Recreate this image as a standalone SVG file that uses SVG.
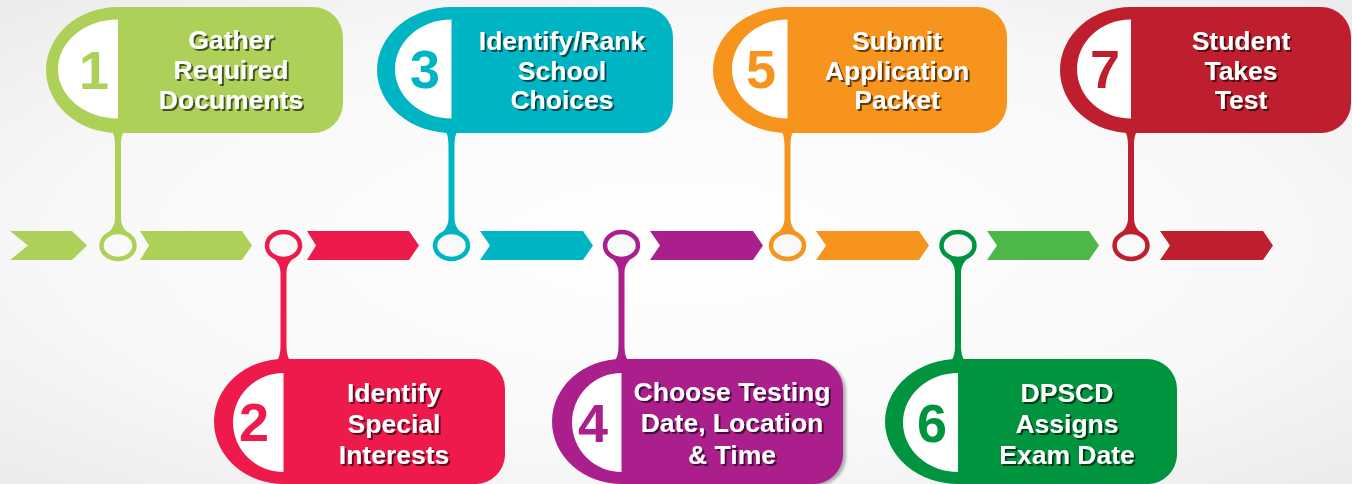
<svg xmlns="http://www.w3.org/2000/svg" xmlns:xlink="http://www.w3.org/1999/xlink" width="1352" height="484" viewBox="0 0 1352 484">
<defs>
<radialGradient id="bg" cx="50%" cy="50%" r="75%">
<stop offset="0" stop-color="#ffffff"/>
<stop offset="0.6" stop-color="#f8f8f8"/>
<stop offset="1" stop-color="#e9e9e9"/>
</radialGradient>
<filter id="sh" x="-10%" y="-20%" width="130%" height="150%">
<feDropShadow dx="2" dy="2" stdDeviation="0.6" flood-color="#000" flood-opacity="0.6"/>
</filter>
<filter id="bs" x="-10%" y="-10%" width="130%" height="130%">
<feGaussianBlur stdDeviation="1.5"/>
</filter>
<path id="stemUp" d="M-13,127 C-4,129 -3,137 -3,147 L-3,218 C-3,228 -9,231 -12,236 L12,236 C9,231 3,228 3,218 L3,147 C3,137 4,129 13,127 Z"/>
<path id="stemDown" d="M-13,364 C-4,362 -3,354 -3,344 L-3,273 C-3,263 -9,260 -12,255 L12,255 C9,260 3,263 3,273 L3,344 C3,354 4,362 13,364 Z"/>
</defs>
<style>
.t{font-family:"Liberation Sans",Arial,sans-serif;font-weight:bold;font-size:26.5px;fill:#ffffff;text-anchor:middle;filter:url(#sh)}
.n{font-family:"Liberation Sans",Arial,sans-serif;font-weight:bold;font-size:54px;text-anchor:middle}
.w{fill:#ffffff}
.ring{fill:#f9f9f9;stroke-width:4.5}
.g1{fill:#ADD158}.r2{fill:#ED1A4B}.c3{fill:#00B5C3}.p4{fill:#AB1F8D}.o5{fill:#F7941D}.d6{fill:#00943F}.l6{fill:#4DB848}.k7{fill:#BE1E2D}
</style>
<rect x="0" y="0" width="1352" height="484" fill="url(#bg)"/>

<g id="timeline">
<polygon class="g1" points="10,231 72,231 87,245.5 72,260 10,260 28,245.5"/>
<polygon class="g1" points="140,231 242,231 252,245.5 242,260 140,260 149,245.5"/>
<polygon class="r2" points="307,231 409,231 419,245.5 409,260 307,260 316,245.5"/>
<polygon class="c3" points="480,231 583,231 593,245.5 583,260 480,260 490,245.5"/>
<polygon class="p4" points="650,231 753,231 763,245.5 753,260 650,260 660,245.5"/>
<polygon class="o5" points="816,231 919,231 929,245.5 919,260 816,260 826,245.5"/>
<polygon class="l6" points="987,231 1089,231 1099,245.5 1089,260 987,260 997,245.5"/>
<polygon class="k7" points="1160,231 1263,231 1273,245.5 1263,260 1160,260 1170,245.5"/>
</g>

<g id="connectors">
<use xlink:href="#stemUp" x="118" fill="#ADD158"/>
<use xlink:href="#stemDown" x="283.5" fill="#ED1A4B"/>
<use xlink:href="#stemUp" x="451.5" fill="#00B5C3"/>
<use xlink:href="#stemDown" x="621.5" fill="#AB1F8D"/>
<use xlink:href="#stemUp" x="787.5" fill="#F7941D"/>
<use xlink:href="#stemDown" x="958" fill="#00943F"/>
<use xlink:href="#stemUp" x="1131" fill="#BE1E2D"/>
<ellipse class="ring" cx="118" cy="245.5" rx="16.5" ry="13.5" stroke="#ADD158"/>
<ellipse class="ring" cx="283.5" cy="245.5" rx="16.5" ry="13.5" stroke="#ED1A4B"/>
<ellipse class="ring" cx="451.5" cy="245.5" rx="16.5" ry="13.5" stroke="#00B5C3"/>
<ellipse class="ring" cx="621.5" cy="245.5" rx="16.5" ry="13.5" stroke="#AB1F8D"/>
<ellipse class="ring" cx="787.5" cy="245.5" rx="16.5" ry="13.5" stroke="#F7941D"/>
<ellipse class="ring" cx="958" cy="245.5" rx="16.5" ry="13.5" stroke="#00943F"/>
<ellipse class="ring" cx="1131" cy="245.5" rx="16.5" ry="13.5" stroke="#BE1E2D"/>
</g>

<g id="node1">
<path class="g1" d="M118,7 L313,7 A30,30 0 0 1 343,37 L343,103 A30,30 0 0 1 313,133 L118,133 A72,63 0 0 1 118,7 Z"/>
<path class="w" d="M118,19.5 A60,49.5 0 0 0 118,118.5 Z"/>
<text class="n g1" x="94" y="89">1</text>
<text class="t" x="231" y="49">Gather</text>
<text class="t" x="231" y="79">Required</text>
<text class="t" x="231" y="109">Documents</text>
</g>

<g id="node2">
<path class="r2" d="M283.5,359 L475,359 A30,30 0 0 1 505,389 L505,456 A30,30 0 0 1 477,484 L283.5,484 A69.5,62.5 0 0 1 283.5,359 Z"/>
<path class="w" d="M283.5,373 A50.5,49.5 0 0 0 283.5,472 Z"/>
<text class="n r2" x="254" y="441">2</text>
<text class="t" x="394" y="402">Identify</text>
<text class="t" x="394" y="433">Special</text>
<text class="t" x="394" y="464">Interests</text>
</g>

<g id="node3">
<path class="c3" d="M451.5,7 L643,7 A30,30 0 0 1 673,37 L673,103 A30,30 0 0 1 643,133 L451.5,133 A74.5,63 0 0 1 451.5,7 Z"/>
<path class="w" d="M451.5,19.5 A56.5,49.5 0 0 0 451.5,118.5 Z"/>
<text class="n c3" x="425" y="88">3</text>
<text class="t" x="562" y="50">Identify/Rank</text>
<text class="t" x="562" y="80">School</text>
<text class="t" x="562" y="109">Choices</text>
</g>

<g id="node4">
<path d="M621.5,361 L815,361 A30,30 0 0 1 846,391 L846,458 A30,30 0 0 1 817,486 L621.5,486 Z" fill="#555" opacity="0.45" filter="url(#bs)"/>
<path class="p4" d="M621.5,359 L813,359 A30,30 0 0 1 843,389 L843,456 A30,30 0 0 1 815,484 L621.5,484 A69.5,62.5 0 0 1 621.5,359 Z"/>
<path class="w" d="M621.5,373 A49.5,49.5 0 0 0 621.5,472 Z"/>
<text class="n p4" x="593" y="442">4</text>
<text class="t" x="732" y="401">Choose Testing</text>
<text class="t" x="732" y="432">Date, Location</text>
<text class="t" x="732" y="464">&amp; Time</text>
</g>

<g id="node5">
<path class="o5" d="M787.5,7 L977,7 A30,30 0 0 1 1007,37 L1007,103 A30,30 0 0 1 977,133 L787.5,133 A74.5,63 0 0 1 787.5,7 Z"/>
<path class="w" d="M787.5,19.5 A55.5,49.5 0 0 0 787.5,118.5 Z"/>
<text class="n o5" x="761" y="88">5</text>
<text class="t" x="897" y="50">Submit</text>
<text class="t" x="897" y="80">Application</text>
<text class="t" x="897" y="109">Packet</text>
</g>

<g id="node6">
<path class="d6" d="M958,359 L1147,359 A30,30 0 0 1 1177,389 L1177,456 A30,30 0 0 1 1149,484 L958,484 A73,62.5 0 0 1 958,359 Z"/>
<path class="w" d="M958,373 A55,49.5 0 0 0 958,472 Z"/>
<text class="n d6" x="932" y="442">6</text>
<text class="t" x="1067" y="402">DPSCD</text>
<text class="t" x="1067" y="433">Assigns</text>
<text class="t" x="1067" y="464">Exam Date</text>
</g>

<g id="node7">
<path class="k7" d="M1131,7 L1321,7 A30,30 0 0 1 1351,37 L1351,103 A30,30 0 0 1 1321,133 L1131,133 A71,63 0 0 1 1131,7 Z"/>
<path class="w" d="M1131,19.5 A54,49.5 0 0 0 1131,118.5 Z"/>
<text class="n k7" x="1105" y="88">7</text>
<text class="t" x="1241" y="50">Student</text>
<text class="t" x="1241" y="80">Takes</text>
<text class="t" x="1241" y="109">Test</text>
</g>
</svg>
